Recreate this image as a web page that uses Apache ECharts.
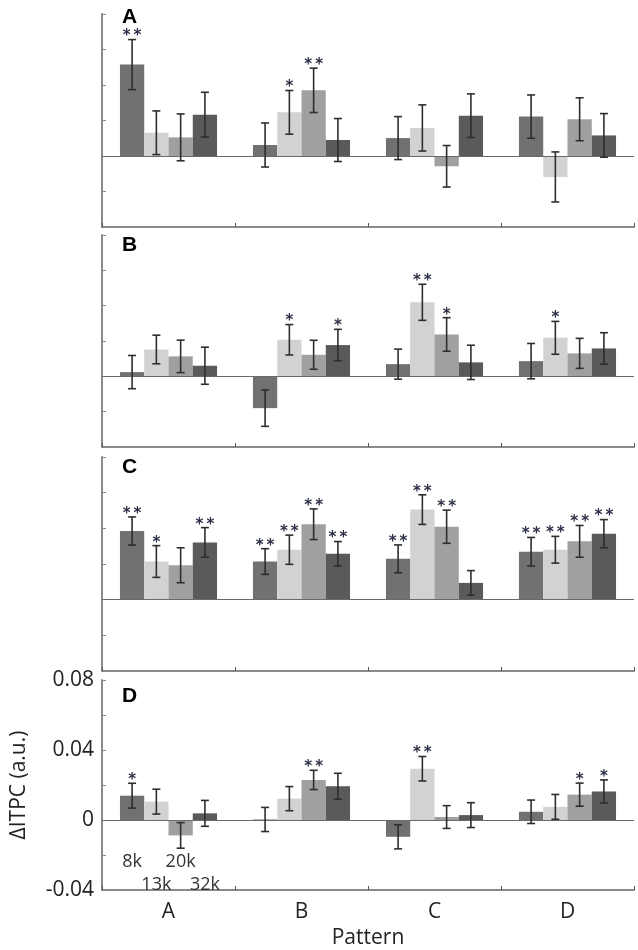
<!DOCTYPE html>
<html>
<head>
<meta charset="utf-8">
<script src="https://cdn.jsdelivr.net/npm/echarts@6/dist/echarts.min.js"></script>
<style>
html,body{margin:0;padding:0;background:#fff;}
#chart{width:638px;height:950px;}
</style>
</head>
<body>
<div id="chart"></div>
<script>
// ---------- DATA ----------
const patterns = ['A', 'B', 'C', 'D'];
const freqs = ['8k', '13k', '20k', '32k'];
const panelNames = ['A', 'B', 'C', 'D'];
const yTickValues = [-0.04, 0, 0.04, 0.08];

// rows: 8k, 13k, 20k, 32k ; columns: pattern A, B, C, D
const meansA = [
  [0.0515, 0.0062, 0.0101, 0.0222],
  [0.0131, 0.0246, 0.0158, -0.0118],
  [0.0105, 0.0370, -0.0058, 0.0207],
  [0.0233, 0.0090, 0.0227, 0.0116]
];
const errorsA = [
  [0.0141, 0.0124, 0.0121, 0.0122],
  [0.0123, 0.0123, 0.0130, 0.0141],
  [0.0132, 0.0125, 0.0117, 0.0121],
  [0.0126, 0.0121, 0.0123, 0.0123]
];
const starsA = [
  ['**', '', '', ''],
  ['', '*', '', ''],
  ['', '**', '', ''],
  ['', '', '', '']
];

const meansB = [
  [0.0024, -0.0180, 0.0069, 0.0086],
  [0.0152, 0.0207, 0.0419, 0.0218],
  [0.0113, 0.0122, 0.0237, 0.0130],
  [0.0060, 0.0177, 0.0079, 0.0158]
];
const errorsB = [
  [0.0094, 0.0103, 0.0085, 0.0100],
  [0.0081, 0.0086, 0.0102, 0.0093],
  [0.0092, 0.0082, 0.0095, 0.0085],
  [0.0105, 0.0089, 0.0097, 0.0089]
];
const starsB = [
  ['', '', '', ''],
  ['', '*', '**', '*'],
  ['', '', '*', ''],
  ['', '*', '', '']
];

const meansC = [
  [0.0385, 0.0214, 0.0229, 0.0269],
  [0.0214, 0.0280, 0.0505, 0.0280],
  [0.0193, 0.0423, 0.0409, 0.0327],
  [0.0321, 0.0257, 0.0094, 0.0370]
];
const errorsC = [
  [0.0079, 0.0072, 0.0078, 0.0080],
  [0.0089, 0.0082, 0.0083, 0.0075],
  [0.0098, 0.0086, 0.0093, 0.0089],
  [0.0083, 0.0069, 0.0069, 0.0079]
];
const starsC = [
  ['**', '**', '**', '**'],
  ['*', '**', '**', '**'],
  ['', '**', '**', '**'],
  ['**', '**', '', '**']
];

const meansD = [
  [0.0139, 0.0003, -0.0096, 0.0047],
  [0.0105, 0.0122, 0.0293, 0.0075],
  [-0.0088, 0.0229, 0.0017, 0.0145],
  [0.0038, 0.0193, 0.0028, 0.0163]
];
const errorsD = [
  [0.0071, 0.0069, 0.0069, 0.0067],
  [0.0071, 0.0069, 0.0070, 0.0071],
  [0.0073, 0.0055, 0.0065, 0.0066],
  [0.0074, 0.0074, 0.0071, 0.0066]
];
const starsD = [
  ['*', '', '', ''],
  ['', '', '**', ''],
  ['', '**', '', '*'],
  ['', '', '', '*']
];

// ---------- STYLE / LAYOUT ----------
const panels = [
  { means: meansA, errors: errorsA, stars: starsA },
  { means: meansB, errors: errorsB, stars: starsB },
  { means: meansC, errors: errorsC, stars: starsC },
  { means: meansD, errors: errorsD, stars: starsD }
];
const barColors = ['#717171', '#d2d2d2', '#a0a0a0', '#5a5a5a'];
const gridTops = [14, 235, 457, 680];
const gridHeights = [213, 212, 214, 214];
const titleTops = [7, 235, 457, 686];
const CAT_GAP = 0.27;
const FONT = '"Open Sans", "Liberation Sans", sans-serif';
const axisGray = '#8a8a8a';

const chart = echarts.init(document.getElementById('chart'), null, { renderer: 'canvas' });

const grids = [], xAxes = [], yAxes = [], series = [], titles = [];

panels.forEach((p, g) => {
  const last = g === panels.length - 1;
  grids.push({ left: 102, width: 532, top: gridTops[g], height: gridHeights[g] });
  titles.push({
    text: panelNames[g], left: 122, top: titleTops[g], padding: 0,
    textStyle: { fontFamily: '"Liberation Sans", Arial, sans-serif', fontWeight: 'bold', fontSize: 21, color: '#000' }
  });
  xAxes.push({
    type: 'category', gridIndex: g, data: patterns, position: 'bottom',
    axisLine: { onZero: false, lineStyle: { color: axisGray, width: 2 } },
    axisTick: { show: true, inside: true, length: 4, interval: 0, lineStyle: { color: '#555', width: 1 } },
    axisLabel: { show: last, fontFamily: FONT, fontSize: 21, color: '#222', margin: 12 },
    name: last ? 'Pattern' : '', nameLocation: 'middle', nameGap: 38,
    nameTextStyle: { fontFamily: FONT, fontSize: 21, color: '#222' },
    splitLine: { show: false }
  });
  yAxes.push({
    type: 'value', gridIndex: g, min: -0.04, max: 0.08, interval: 0.02,
    axisLine: { show: true, lineStyle: { color: axisGray, width: 2 } },
    axisTick: { show: true, inside: true, length: 4, lineStyle: { color: axisGray, width: 1 } },
    axisLabel: {
      show: last, fontFamily: FONT, fontSize: 21, color: '#222', margin: 8,
      formatter: v => {
        const t = yTickValues.find(s => Math.abs(s - v) < 1e-9);
        if (t === undefined) return '';
        return t === 0 ? '0' : t.toFixed(2);
      }
    },
    splitLine: { show: false },
    name: last ? 'ΔITPC (a.u.)' : '', nameLocation: 'middle', nameGap: 72,
    nameTextStyle: { fontFamily: FONT, fontSize: 21, color: '#222' }
  });

  // bars
  p.means.forEach((row, k) => {
    const s = {
      type: 'bar', name: freqs[k], xAxisIndex: g, yAxisIndex: g,
      data: row, barGap: '0%', barCategoryGap: (CAT_GAP * 100) + '%',
      itemStyle: { color: barColors[k] }, silent: true, z: 2
    };
    if (k === 0) {
      s.markLine = {
        silent: true, symbol: 'none', label: { show: false },
        lineStyle: { color: '#6a6a6a', width: 1.2, type: 'solid' },
        data: [{ yAxis: 0 }], z: 5
      };
    }
    series.push(s);
  });

  // error bars + significance stars
  p.means.forEach((row, k) => {
    const errs = p.errors[k];
    const stars = p.stars[k];
    series.push({
      type: 'custom', xAxisIndex: g, yAxisIndex: g, silent: true, z: 10,
      data: row.map((m, i) => [i, m, errs[i]]),
      renderItem: (params, api) => {
        const i = api.value(0), m = api.value(1), e = api.value(2);
        const band = api.size([1, 0])[0];
        const groupW = band * (1 - CAT_GAP);
        const bw = groupW / 4;
        const cx = api.coord([i, m])[0] - groupW / 2 + bw * (k + 0.5);
        const yHi = api.coord([i, m + e])[1];
        const yLo = api.coord([i, m - e])[1];
        const cap = 4;
        const ls = { stroke: '#2e2e2e', lineWidth: 1.6 };
        const children = [
          { type: 'line', shape: { x1: cx, y1: yHi, x2: cx, y2: yLo }, style: ls },
          { type: 'line', shape: { x1: cx - cap, y1: yHi, x2: cx + cap, y2: yHi }, style: ls },
          { type: 'line', shape: { x1: cx - cap, y1: yLo, x2: cx + cap, y2: yLo }, style: ls }
        ];
        const st = stars[params.dataIndex];
        if (st) {
          children.push({
            type: 'text',
            style: {
              x: cx, y: yHi - 3, text: st.split('').join('\u2009'), align: 'center', verticalAlign: 'middle',
              font: 'bold 15px "DejaVu Sans", sans-serif', fill: '#2b2f45'
            }
          });
        }
        if (last && params.dataIndex === 0) {
          const y0 = api.coord([i, 0])[1];
          children.push({
            type: 'text',
            style: {
              x: cx, y: y0 + (k % 2 === 0 ? 42 : 65), text: freqs[k], align: 'center', verticalAlign: 'middle',
              font: '18px "Open Sans", sans-serif', fill: '#333'
            }
          });
        }
        return { type: 'group', children };
      }
    });
  });
});

chart.setOption({
  animation: false,
  backgroundColor: '#fff',
  title: titles,
  grid: grids,
  xAxis: xAxes,
  yAxis: yAxes,
  series: series
});
</script>
</body>
</html>
